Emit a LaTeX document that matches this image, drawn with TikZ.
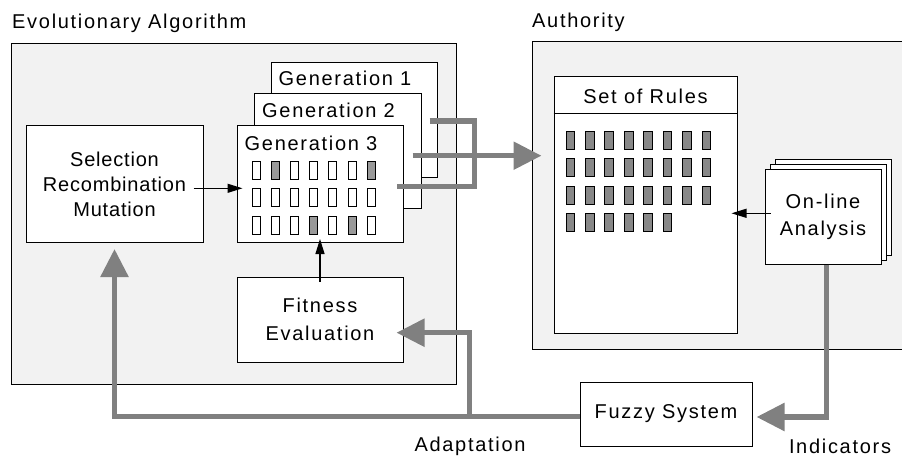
\documentclass[tikz,border=0pt]{standalone}
\usepackage{fontspec}
\setmainfont{Liberation Sans}[LetterSpace=8.5]
\usetikzlibrary{arrows.meta,calc}
\definecolor{panelfill}{HTML}{F2F2F2}
\definecolor{arrgray}{HTML}{808080}
\definecolor{cellgray}{HTML}{999999}
\definecolor{rulegray}{HTML}{888888}
\begin{document}
\begin{tikzpicture}[x=1pt,y=-1pt,
  lbl/.style={font=\fontsize{20}{26}\selectfont},
  panelbox/.style={draw, fill=panelfill, line width=1pt, inner sep=0pt},
  wbox/.style={draw, fill=white, line width=1pt, inner sep=0pt, align=center, lbl},
  gline/.style={draw=arrgray, line width=5.5pt},
  garrow/.style={gline, -{Triangle[length=28pt,width=27pt]}},
  tarrow/.style={line width=1.2pt, -{Triangle[length=15pt,width=9pt]}},
  cellbox/.style={draw, line width=0.9pt, fill=white},
  rulecell/.style={draw, line width=0.9pt, fill=rulegray}]
\useasboundingbox (0,0) rectangle (902,457);
% titles
\node[lbl, anchor=base west, inner sep=0pt] (tEA) at (12,29) {Evolutionary Algorithm};
\node[lbl, anchor=base west, inner sep=0pt] (tAu) at (532,27.5) {Authority};
% panels
\node[panelbox, minimum width=445pt, minimum height=340pt] (lp) at (233.5,214) {};
\node[panelbox, minimum width=373pt, minimum height=307pt] (rp) at (718.5,195.5) {};
% left side boxes
\node[wbox, minimum width=177pt, minimum height=116pt,
  font=\fontsize{20}{25}\selectfont\addfontfeature{LetterSpace=4}] (sel) at (114.5,184) {Selection\\Recombination\\Mutation};
\node[wbox, minimum width=166pt, minimum height=115pt] (gen1) at (354,120.5) {};
\node[wbox, minimum width=167pt, minimum height=115pt] (gen2) at (337.5,151.5) {};
\node[wbox, minimum width=166pt, minimum height=116pt] (gen3) at (320,184) {};
\node[lbl, anchor=base west, inner sep=0pt] (g1t) at ($(gen1.north west)+(8,23)$) {Generation 1};
\node[lbl, anchor=base west, inner sep=0pt] (g2t) at ($(gen2.north west)+(8.5,24)$) {Generation 2};
\node[lbl, anchor=base west, inner sep=0pt] (g3t) at ($(gen3.north west)+(8,25)$) {Generation 3};
% generation 3 cells
\foreach \r in {0,1,2}{
  \foreach \c in {0,...,6}{
    \draw[cellbox] (252.7+19.05*\c,161+27.5*\r) rectangle +(8,18);
  }
}
\foreach \c/\r in {1/0,6/0,3/2,5/2}{
  \draw[cellbox, fill=cellgray] (252.7+19.05*\c,161+27.5*\r) rectangle +(8,18);
}
\node[wbox, minimum width=166pt, minimum height=85pt] (fit) at (320,319.5) {Fitness\\[2pt]Evaluation};
% right side
\node[wbox, minimum width=183pt, minimum height=256pt] (rules) at (645.5,205) {};
\node[lbl, inner sep=0pt] (rulest) at (645.5,96) {Set of Rules};
\draw[line width=1pt] (rules.west |- 0,114) -- (rules.east |- 0,114);
\foreach \r in {0,1,2}{
  \foreach \c in {0,...,7}{
    \draw[rulecell] (566+19.43*\c,131.7+27.2*\r) rectangle +(8.7,18);
  }
}
\foreach \c in {0,...,5}{
  \draw[rulecell] (566+19.43*\c,131.7+27.2*3) rectangle +(8.7,18);
}
\node[wbox, minimum width=116pt, minimum height=95pt] (onl3) at (833,207.5) {};
\node[wbox, minimum width=116pt, minimum height=95pt] (onl2) at (828,212.5) {};
\node[wbox, minimum width=116pt, minimum height=94pt, font=\fontsize{20}{27}\selectfont] (onl) at (823,217) {On-line\\Analysis};
% bottom
\node[wbox, minimum width=172pt, minimum height=64pt] (fuzzy) at (666,414) {Fuzzy System};
\node[lbl, inner sep=0pt] (adapt) at (470,446) {Adaptation};
\node[lbl, inner sep=0pt] (indic) at (840,446) {Indicators};
% thin arrows
\coordinate (selout) at ($(sel.east)+(-10,4.3)$);
\draw[tarrow] (selout) -- ($(gen3.west |- selout)+(6,0)$);
\draw[tarrow] ($(fit.north)+(0,5)$) -- ($(gen3.south)+(0,-3.5)$);
\coordinate (onlout) at ($(onl.west)+(6,-3.7)$);
\draw[tarrow] (onlout) -- ($(rules.east |- onlout)+(-6,0)$);
% thick gray connectors
\draw[gline] ($(gen1.east)+(-8,0.5)$) -- ++(45,0) |- ($(gen3.east)+(-7,2.7)$);
\coordinate (g2s) at ($(gen2.east)+(-9,4.2)$);
\draw[garrow] (g2s) -- ($(rules.west |- g2s)+(-12,0)$);
\draw[garrow] ($(onl.south)+(3.7,0)$) |- ($(fuzzy.east)+(4,3)$);
\draw[garrow] ($(fuzzy.west)+(0,2.5)$) -| ($(sel.south)+(0,6.5)$);
\coordinate (br) at ($(fuzzy.west)+(-110,2.5)$);
\draw[garrow] (br) |- ($(fit.east)+(-7,13.2)$);
\end{tikzpicture}
\end{document}
